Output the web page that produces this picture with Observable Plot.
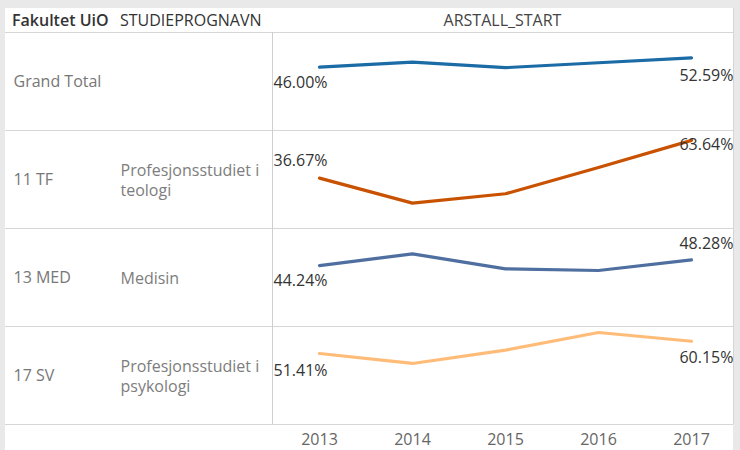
<!DOCTYPE html>
<html><head><meta charset="utf-8">
<script src="https://cdn.jsdelivr.net/npm/d3@7"></script>
<script src="https://cdn.jsdelivr.net/npm/@observablehq/plot@0.6"></script>
<style>
html,body{margin:0;padding:0;background:#fff;}
#wrap{position:relative;width:740px;height:450px;background:#e9e9e9;overflow:hidden;}
#panel{position:absolute;left:5px;top:8px;width:728px;height:442px;background:#fff;}
#chart{position:absolute;left:0;top:0;}
</style></head><body>
<div id="wrap"><div id="panel"></div><div id="chart"></div></div>
<script>
// ---- data ----
const years = [2013, 2014, 2015, 2016, 2017];
const rowKeys = ["Grand Total", "11 TF", "13 MED", "17 SV"];
const programs = ["", "Profesjonsstudiet i teologi", "Medisin", "Profesjonsstudiet i psykologi"];
const grandTotal = [46.00, 49.6, 45.6, 49.1, 52.59];
const tf = [36.67, 18.8, 25.5, 44.3, 63.64];
const med = [44.24, 52.6, 41.9, 40.7, 48.28];
const sv = [51.41, 44.3, 53.8, 66.4, 60.15];
const colors = ["#1b6ba6", "#c85200", "#4e6f9f", "#ffbc79"];

// ---- build tables ----
const series = [grandTotal, tf, med, sv];
const data = rowKeys.flatMap((r, i) => years.map((y, j) => ({row: r, year: y, value: series[i][j] / 100})));
const rows = rowKeys.map((r, i) => ({row: r, prog: programs[i]}));
const fmt = v => (v * 100).toFixed(2) + "%";
const FONT = "'Open Sans', sans-serif";

// label vertical placement (style): first / last point of each row
const dyFirst = [16, -17, 15, 17];
const dyLast = [18, 4, -16, 17];

const labelStyle = {fontSize: 16, fill: "#333", fontFamily: FONT};
const labelMarks = rowKeys.flatMap((r, i) => {
  const pts = data.filter(d => d.row === r);
  const f = pts[0], l = pts[pts.length - 1];
  return [
    Plot.text([f], {fy: "row", y: "value", text: d => fmt(d.value), frameAnchor: "left", textAnchor: "start", dx: 1, dy: dyFirst[i], ...labelStyle}),
    Plot.text([l], {fy: "row", y: "value", text: d => fmt(d.value), frameAnchor: "right", textAnchor: "end", dx: 1, dy: dyLast[i], ...labelStyle})
  ];
});

const plot = Plot.plot({
  width: 740,
  height: 450,
  marginLeft: 272,
  marginRight: 8,
  marginTop: 32,
  marginBottom: 26,
  style: {background: "transparent", fontFamily: FONT, overflow: "visible"},
  x: {type: "point", domain: years, range: [317, 692], padding: 0, label: null},
  y: {domain: [0.007, 0.707], axis: null},
  fy: {domain: rowKeys, padding: 0, axis: null, label: null},
  color: {domain: rowKeys, range: colors},
  marks: [
    Plot.axisX({tickSize: 0, tickPadding: 9, fontSize: 16, fill: "#666", label: null, tickFormat: d => `${d}`}),
    Plot.line(data, {x: "year", y: "value", fy: "row", stroke: "row", strokeWidth: 3.2, strokeLinejoin: "round", strokeLinecap: "round"}),
    ...labelMarks,
    Plot.text(rows, {fy: "row", text: "row", frameAnchor: "left", textAnchor: "start", dx: -259, fill: "#777", fontSize: 16, fontFamily: FONT}),
    Plot.text(rows, {fy: "row", text: "prog", frameAnchor: "left", textAnchor: "start", dx: -152, lineWidth: 9.5, lineHeight: 1.25, fill: "#7d7d7d", fontSize: 16, fontFamily: FONT})
  ]
});

document.getElementById("chart").appendChild(plot);

// ---- table grid lines and header (from the library's fy/x scales) ----
const svg = d3.select(plot);
const fy = plot.scale("fy");
const bw = fy.bandwidth;
const tops = rowKeys.map(k => fy.apply(k));
const bottom = tops[tops.length - 1] + bw;
const left = 5, right = 733, split = 272;
const g = svg.insert("g", ":first-child");
[...tops, bottom].forEach(y => {
  g.append("line").attr("x1", left).attr("x2", right).attr("y1", y + 0.5).attr("y2", y + 0.5)
    .attr("stroke", "#d6d6d6").attr("stroke-width", 1);
});
g.append("line").attr("x1", split + 0.5).attr("x2", split + 0.5).attr("y1", tops[0]).attr("y2", bottom)
  .attr("stroke", "#cfcfcf").attr("stroke-width", 1);
g.append("line").attr("x1", right + 0.5).attr("x2", right + 0.5).attr("y1", 8).attr("y2", bottom)
  .attr("stroke", "#d6d6d6").attr("stroke-width", 1);

const headY = (8 + tops[0]) / 2;
const head = svg.append("g").attr("font-family", FONT).attr("font-size", 16).attr("fill", "#333").attr("text-anchor", "start");
head.append("text").attr("x", 12).attr("y", headY).attr("dy", "0.35em").attr("font-weight", 600).attr("text-anchor", "start").text("Fakultet UiO");
head.append("text").attr("x", 120).attr("y", headY).attr("dy", "0.35em").attr("text-anchor", "start").text("STUDIEPROGNAVN");
head.append("text").attr("x", (split + right) / 2).attr("y", headY).attr("dy", "0.35em").attr("text-anchor", "middle").attr("fill", "#444").text("ARSTALL_START");
</script></body></html>
